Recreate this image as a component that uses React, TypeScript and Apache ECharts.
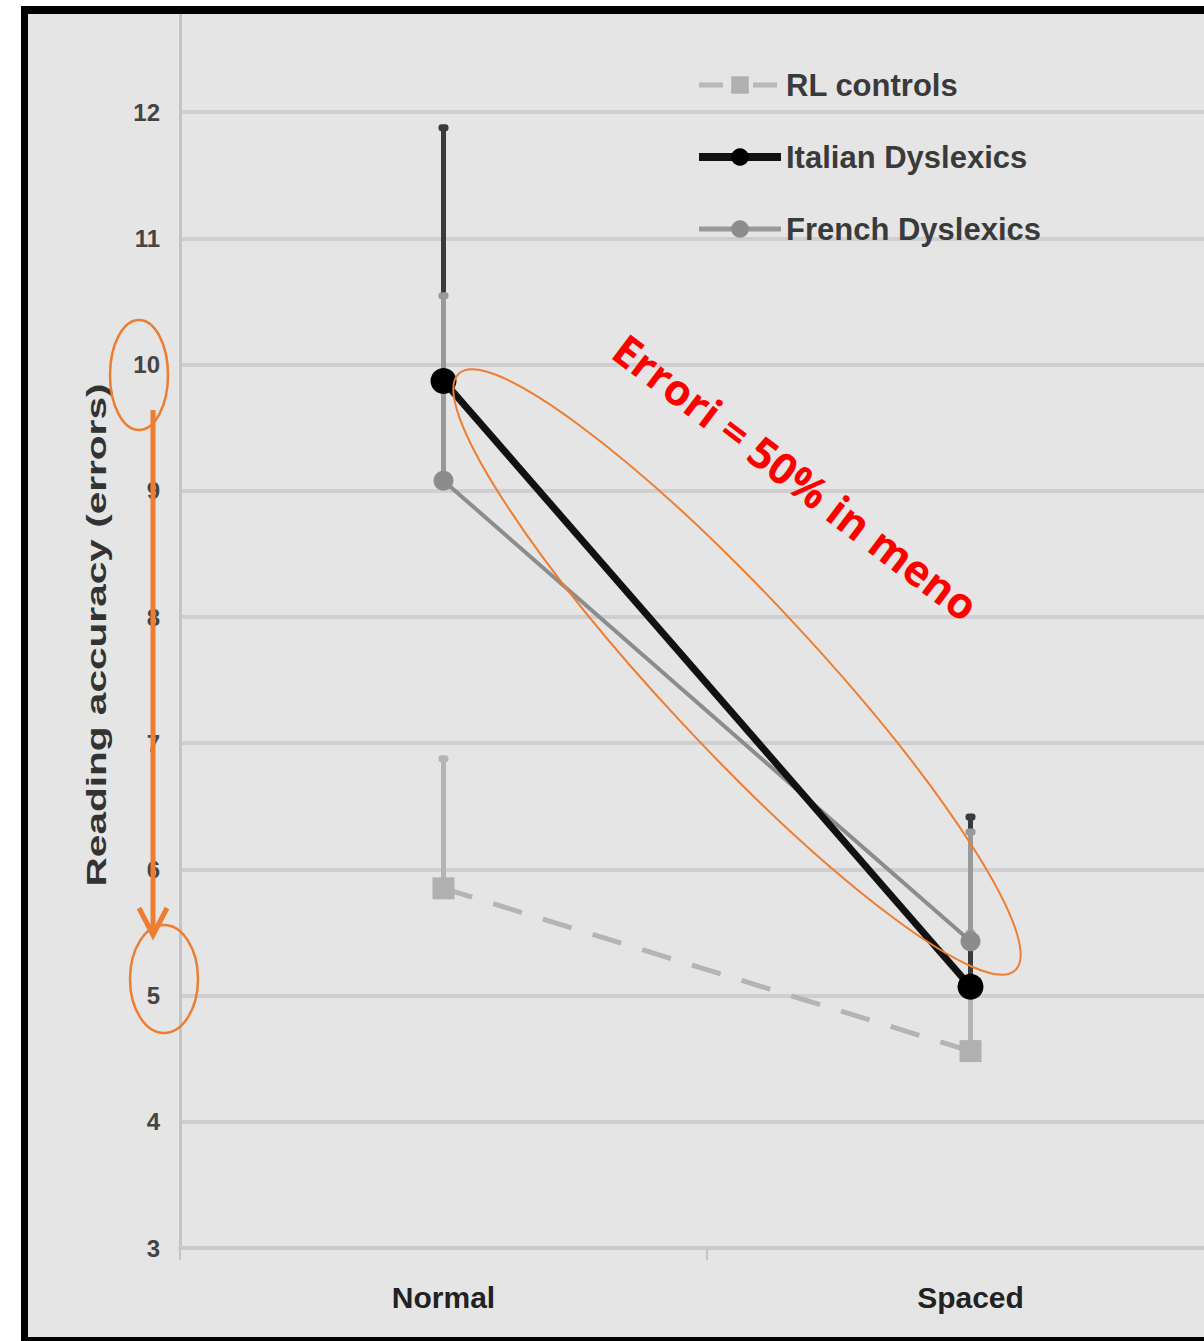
import React, { useEffect, useRef } from "react";
import * as echarts from "echarts";

const categories = ["Normal", "Spaced"];
const seriesNames = ["RL controls", "Italian Dyslexics", "French Dyslexics"];
const rlMeans = [5.85, 4.56];
const rlUpper = [6.88, 5.5];
const italianMeans = [9.87, 5.07];
const italianUpper = [11.88, 6.42];
const frenchMeans = [9.08, 5.43];
const frenchUpper = [10.55, 6.3];
const yTitle = "Reading accuracy (errors)";
const annotation = "Errori = 50% in meno";

const SANS = '"Liberation Sans", Arial, sans-serif';
const ORANGE = "#ed7d31";

function errorBarSeries(name: string, means: number[], upper: number[], color: string, width: number) {
  return {
    type: "custom",
    name: name + " err",
    z: 1,
    silent: true,
    encode: { x: 0, y: [1, 2] },
    data: means.map((m, i) => [i, m, upper[i]]),
    renderItem: (params: any, api: any) => {
      const x = api.value(0);
      const p0 = api.coord([x, api.value(1)]);
      const p1 = api.coord([x, api.value(2)]);
      return {
        type: "group",
        children: [
          { type: "line", shape: { x1: p0[0], y1: p0[1], x2: p1[0], y2: p1[1] }, style: { stroke: color, lineWidth: width } },
          { type: "rect", shape: { x: p1[0] - 5, y: p1[1] - 3, width: 10, height: 7, r: 3 }, style: { fill: color } },
        ],
      };
    },
  };
}

export default function App() {
  const ref = useRef<HTMLDivElement>(null);
  useEffect(() => {
    if (!ref.current) return;
    const chart = echarts.init(ref.current, undefined, { renderer: "svg" });
    chart.setOption({
      animation: false,
      backgroundColor: "transparent",
      grid: { left: 152, right: 44, top: 0, bottom: 89 },
      legend: {
        data: [
          { name: seriesNames[0], lineStyle: { width: 5, type: [24, 30], color: "#b8b8b8" } },
          { name: seriesNames[1], lineStyle: { width: 8, color: "#111" } },
          { name: seriesNames[2], lineStyle: { width: 5, color: "#999" } },
        ],
        orient: "vertical",
        left: 662,
        top: 74,
        itemWidth: 82,
        itemHeight: 22,
        itemGap: 32,
        textStyle: { fontFamily: SANS, fontWeight: "bold", fontSize: 31, color: "#3a3a3a", lineHeight: 40 },
      },
      xAxis: {
        type: "category",
        data: categories,
        boundaryGap: true,
        axisLine: { show: true, lineStyle: { color: "#cbcbcb", width: 4 } },
        axisTick: { show: true, length: 12, lineStyle: { color: "#c4c4c4", width: 2 } },
        axisLabel: { fontFamily: SANS, fontWeight: "bold", fontSize: 30, color: "#222", margin: 34 },
      },
      yAxis: {
        type: "value",
        min: 3,
        max: 13,
        interval: 1,
        axisLine: { show: true, lineStyle: { color: "#c4c4c4", width: 3 } },
        axisTick: { show: false },
        splitLine: { show: true, lineStyle: { color: "#cfcfcf", width: 4 } },
        axisLabel: {
          fontFamily: SANS,
          fontWeight: "bold",
          fontSize: 24,
          color: "#444",
          margin: 20,
          showMaxLabel: false,
        },
      },
      graphic: [
        {
          type: "text",
          x: 68,
          y: 649,
          rotation: Math.PI / 2,
          scaleX: 1.45,
          style: {
            text: yTitle,
            fontFamily: SANS,
            fontWeight: "bold",
            fontSize: 28,
            fill: "#333",
            align: "center",
            verticalAlign: "middle",
          },
        },
        {
          type: "ellipse",
          shape: { cx: 111, cy: 389, rx: 29, ry: 55 },
          style: { fill: "none", stroke: ORANGE, lineWidth: 2.5 },
          z: 100,
        },
        {
          type: "ellipse",
          shape: { cx: 136, cy: 993, rx: 34, ry: 54 },
          style: { fill: "none", stroke: ORANGE, lineWidth: 2.5 },
          z: 100,
        },
        {
          type: "line",
          shape: { x1: 125, y1: 424, x2: 125, y2: 948 },
          style: { stroke: ORANGE, lineWidth: 5 },
          z: 100,
        },
        {
          type: "polyline",
          shape: { points: [[111, 922], [125, 949], [139, 922]] },
          style: { stroke: ORANGE, lineWidth: 5, fill: "none" },
          z: 100,
        },
        {
          type: "ellipse",
          x: 709,
          y: 686,
          rotation: (-47 * Math.PI) / 180,
          shape: { cx: 0, cy: 0, rx: 408, ry: 75 },
          style: { fill: "none", stroke: ORANGE, lineWidth: 2 },
          z: 100,
        },
        {
          type: "text",
          x: 768,
          y: 491,
          rotation: (-37 * Math.PI) / 180,
          style: {
            text: annotation,
            fontFamily: '"Open Sans", "Noto Sans", sans-serif',
            fontWeight: "bold",
            fontSize: 43,
            fill: "#ff0000",
            align: "center",
            verticalAlign: "middle",
          },
          z: 100,
        },
      ],
      series: [
        errorBarSeries("RL controls", rlMeans, rlUpper, "#b4b4b4", 5),
        errorBarSeries("Italian Dyslexics", italianMeans, italianUpper, "#3a3a3a", 5),
        errorBarSeries("French Dyslexics", frenchMeans, frenchUpper, "#999999", 5),
        {
          type: "line",
          name: "RL controls",
          data: rlMeans,
          z: 2,
          symbol: "rect",
          symbolSize: 22,
          itemStyle: { color: "#b0b0b0" },
          lineStyle: { color: "#b4b4b4", width: 5, type: [30, 22] },
        },
        {
          type: "line",
          name: "French Dyslexics",
          data: frenchMeans,
          z: 3,
          symbol: "circle",
          symbolSize: 20,
          itemStyle: { color: "#8c8c8c" },
          lineStyle: { color: "#8c8c8c", width: 4 },
        },
        {
          type: "line",
          name: "Italian Dyslexics",
          data: italianMeans,
          z: 4,
          symbol: "circle",
          symbolSize: 26,
          itemStyle: { color: "#000" },
          lineStyle: { color: "#111", width: 7 },
        },
      ],
    });
    return () => chart.dispose();
  }, []);

  return (
    <div style={{ position: "fixed", left: 0, top: 0, width: 1204, height: 1341, overflow: "hidden", background: "#fff" }}>
      <div
        style={{
          position: "absolute",
          left: 21,
          top: 6,
          width: 1400,
          height: 1338,
          boxSizing: "border-box",
          borderLeft: "7px solid #000",
          borderTop: "8px solid #000",
          borderBottom: "7px solid #000",
          background: "#e5e5e5",
          overflow: "hidden",
        }}
      >
        <div ref={ref} style={{ position: "absolute", left: 0, top: -28, width: 1250, height: 1351 }} />
      </div>
    </div>
  );
}
